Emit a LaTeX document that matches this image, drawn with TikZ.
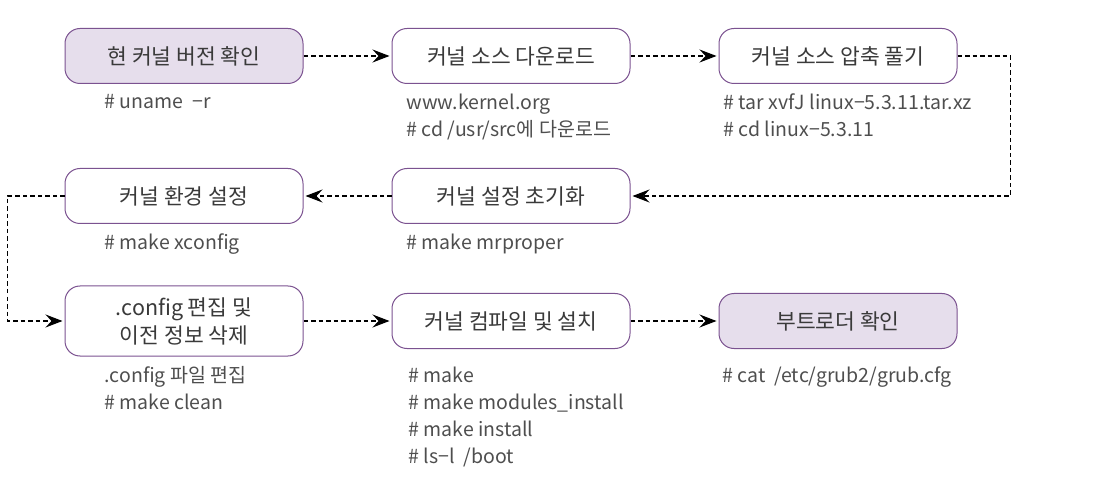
\documentclass[tikz,border=0pt]{standalone}
\usepackage{fontspec}
\setmainfont{Noto Sans CJK KR}
\usetikzlibrary{arrows.meta,positioning}

\definecolor{boxline}{HTML}{7B5290}
\definecolor{boxfill}{HTML}{E6DEEC}
\definecolor{txt}{HTML}{3A3A3A}

\tikzset{
  stepbox/.style={draw=boxline,line width=1pt,rounded corners=15pt,
    minimum width=238pt,minimum height=55pt,align=center,text=txt,
    font=\fontsize{21.5}{28}\selectfont},
  hilite/.style={stepbox,fill=boxfill},
  cmd/.style={anchor=north west,align=left,inner sep=0pt,text=txt!90,
    font=\fontsize{19.5}{27}\selectfont},
  flow/.style={dash pattern=on 4.5pt off 3pt,line width=1.2pt,
    -{Stealth[length=17pt,width=13pt,inset=6pt]},shorten >=2pt}
}

\begin{document}
\begin{tikzpicture}[x=1pt,y=-1pt,node distance=327pt,on grid]
\useasboundingbox (0,0) rectangle (1108,478);

\node[hilite] (ver) at (184,56) {현 커널 버전 확인};
\node[stepbox] (down) [right=of ver] {커널 소스 다운로드};
\node[stepbox] (untar) [right=of down] {커널 소스 압축 풀기};
\node[stepbox] (init) [below=140pt of down] {커널 설정 초기화};
\node[stepbox] (env) [left=of init] {커널 환경 설정};
\node[stepbox,minimum height=70pt] (edit) [below=125pt of env] {.config 편집 및\\이전 정보 삭제};
\node[stepbox] (build) [right=of edit] {커널 컴파일 및 설치};
\node[hilite] (boot) [right=of build] {부트로더 확인};

% commands under each step
\node[cmd,xshift=40pt,yshift=-10pt] (ver-c) at (ver.south west) {\# uname \ −r};
\node[cmd,xshift=15pt,yshift=-10pt] (down-c) at (down.south west) {www.kernel.org\\\# cd /usr/src에 다운로드};
\node[cmd,xshift=5pt,yshift=-10pt] (untar-c) at (untar.south west) {\# tar xvfJ linux−5.3.11.tar.xz\\\# cd linux−5.3.11};
\node[cmd,xshift=15pt,yshift=-10pt] (init-c) at (init.south west) {\# make mrproper};
\node[cmd,xshift=40pt,yshift=-10pt] (env-c) at (env.south west) {\# make xconfig};
\node[cmd,xshift=40pt,yshift=-10pt] (edit-c) at (edit.south west) {.config 파일 편집\\\# make clean};
\node[cmd,xshift=17pt,yshift=-18pt] (build-c) at (build.south west) {\# make\\\# make modules\_install\\\# make install\\\# ls−l \ /boot};
\node[cmd,xshift=4pt,yshift=-18pt] (boot-c) at (boot.south west) {\# cat \ /etc/grub2/grub.cfg};

\draw[flow] (ver) -- (down);
\draw[flow] (down) -- (untar);
\draw[flow] (untar.east) -- ++(53,0) |- (init.east);
\draw[flow] (init) -- (env);
\draw[flow] (env.west) -- ++(-57,0) |- (edit.west);
\draw[flow] (edit) -- (build);
\draw[flow] (build) -- (boot);
\end{tikzpicture}
\end{document}
